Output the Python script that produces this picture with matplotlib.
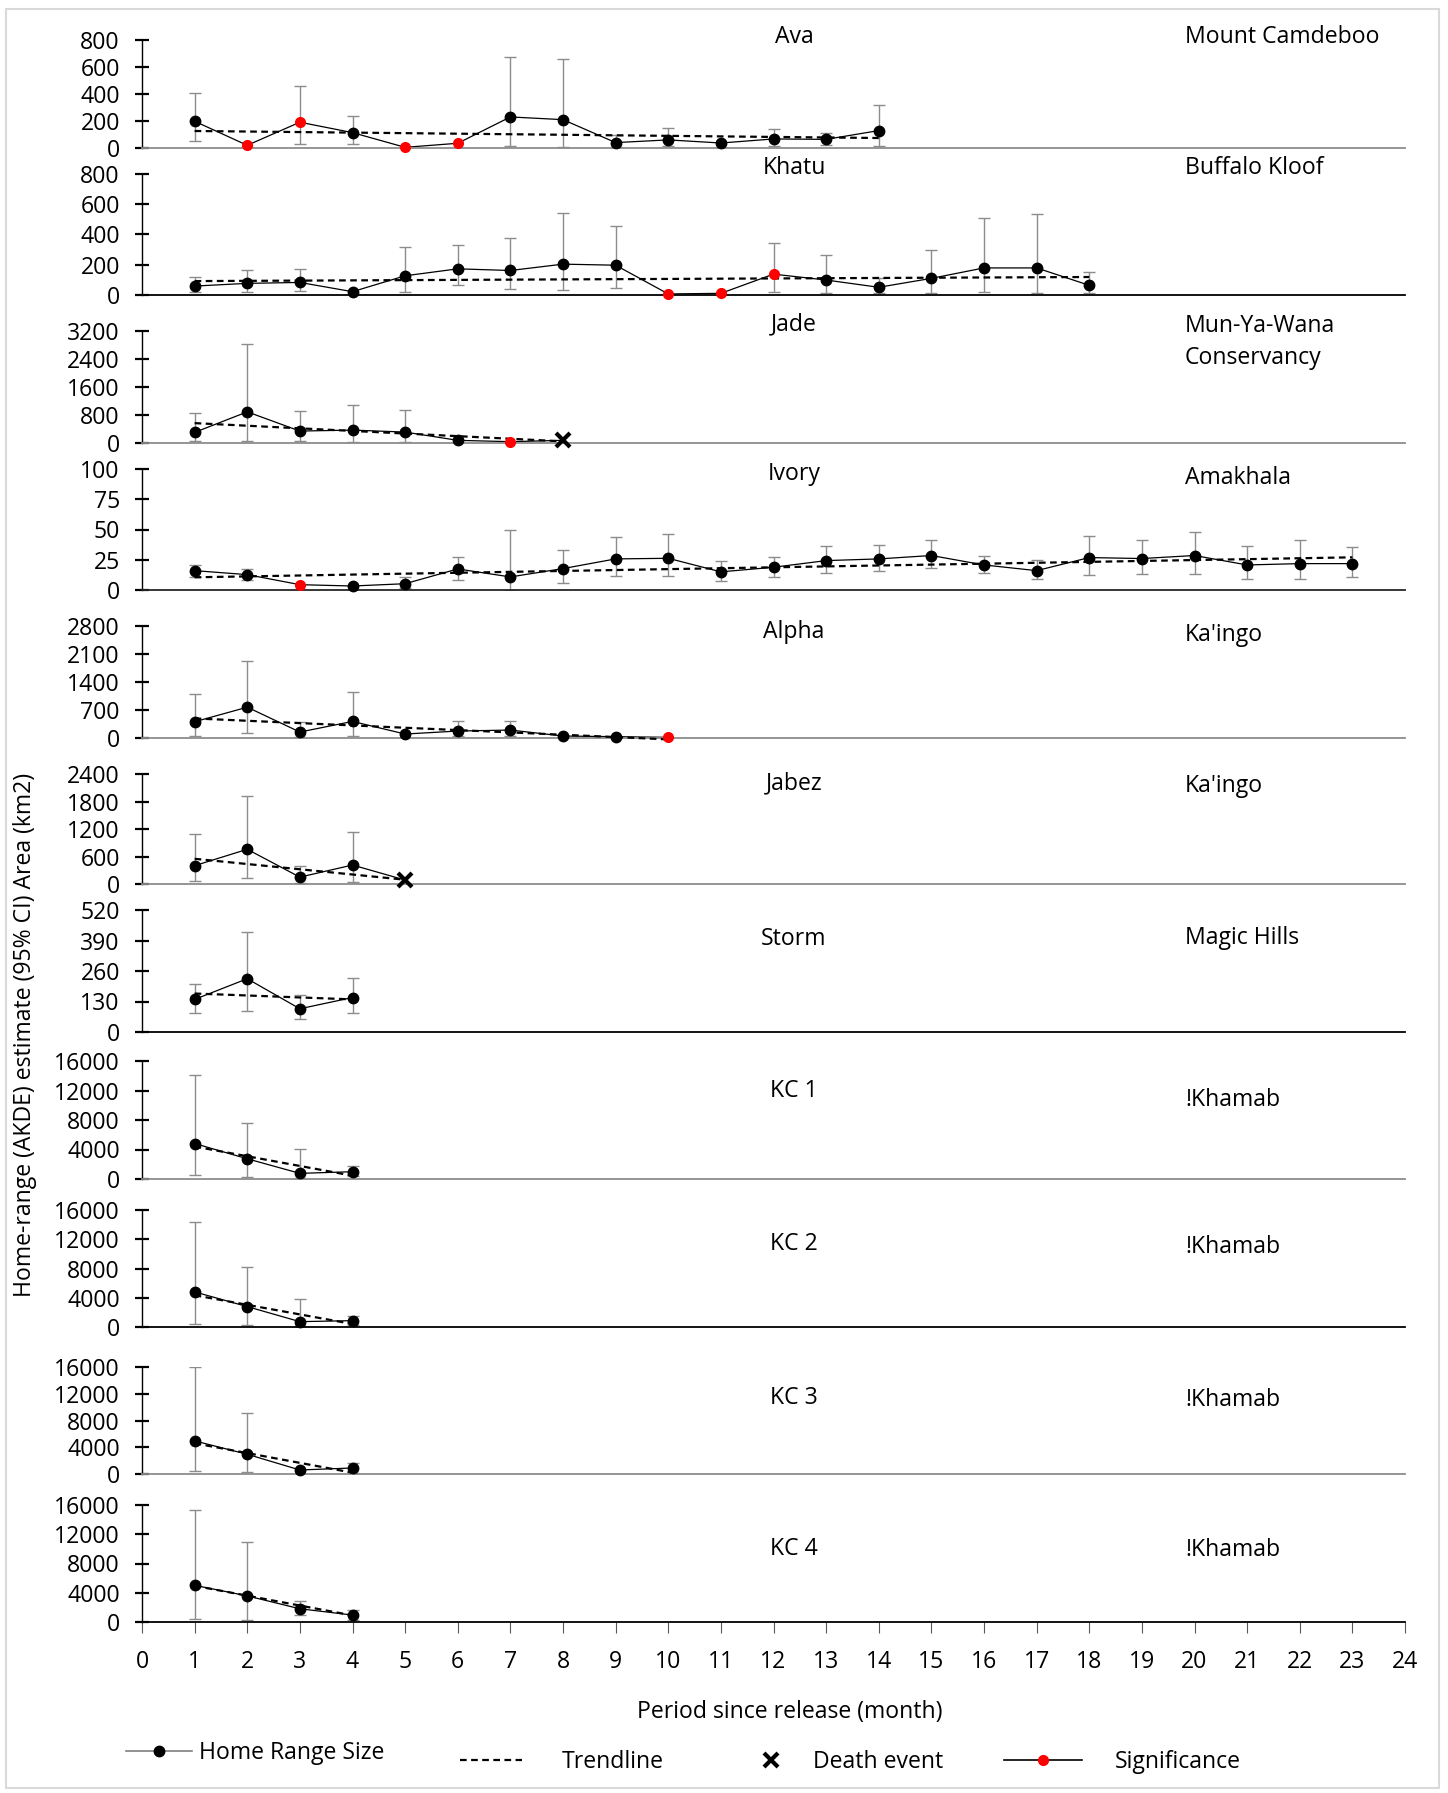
import matplotlib
matplotlib.use("Agg")
import matplotlib.pyplot as plt
from matplotlib.lines import Line2D
from matplotlib.patches import Rectangle
import numpy as np

plt.rcParams['font.family'] = ['Open Sans', 'DejaVu Sans']

# Home-range estimates per animal: value, lower / upper 95% CI (None = no CI drawn)
AVA_VAL = [198, 20, 191, 114, 5, 35, 230, 210, 40, 60, 37, 67, 64, 129]
AVA_LO = [54, None, 32, 30, None, None, 12, 5, 5, 12, None, 15, 20, 17]
AVA_HI = [411, None, 456, 240, None, None, 674, 661, 100, 149, None, 144, 114, 315]
AVA_SIG = [2, 3, 5, 6]
AVA_TREND = [126, 74]

KHATU_VAL = [59, 77, 83, 22, 127, 173, 162, 204, 197, 7, 11, 138, 99, 51, 110, 179, 179, 64]
KHATU_LO = [18, 22, 26, None, 22, 64, 37, 31, 46, None, None, 22, 11, 11, 11, 18, 13, 11]
KHATU_HI = [121, 167, 173, None, 320, 333, 379, 539, 456, None, None, 346, 267, 110, 298, 511, 533, 154]
KHATU_SIG = [10, 11, 12]
KHATU_TREND = [92, 119]

JADE_VAL = [303, 890, 341, 369, 312, 76, 38, 76]
JADE_LO = [47, 57, 47, 38, 38, None, None, None]
JADE_HI = [862, 2831, 928, 1098, 947, None, None, None]
JADE_SIG = [7]
JADE_DEATH = 8
JADE_TREND = [568, 47]

IVORY_VAL = [16, 12.7, 4.4, 3.3, 5.2, 17.4, 10.8, 17.7, 25.7, 26.2, 15, 18.8,
             24.3, 25.7, 28.5, 20.7, 16, 26.8, 26, 28.5, 20.7, 21.8, 21.8]
IVORY_LO = [11, 8, None, None, 1.4, 8.6, 0, 6, 11.9, 11.6, 7.5, 11,
            14, 15.5, 18.2, 13.8, 9.4, 12.4, 13.3, 13.5, 8.8, 8.8, 10.8]
IVORY_HI = [21, 17, None, None, 11, 27, 50, 33, 43.4, 46, 24, 27,
            36, 37.6, 41.7, 28.2, 24.6, 44.7, 41, 47.8, 36.2, 41, 35.6]
IVORY_SIG = [3]
IVORY_TREND = [10.5, 27]

ALPHA_VAL = [406, 770, 149, 414, 99, 174, 199, 50, 33, 17]
ALPHA_LO = [50, 133, 25, 50, None, 41, 58, None, None, None]
ALPHA_HI = [1093, 1922, 390, 1143, None, 414, 422, None, None, None]
ALPHA_SIG = [10]
ALPHA_TREND = [489, -35]

JABEZ_VAL = [400, 757, 150, 414, 86]
JABEZ_LO = [57, 129, 14, 43, None]
JABEZ_HI = [1093, 1914, 400, 1136, None]
JABEZ_DEATH = 5
JABEZ_TREND = [550, 93]

STORM_VAL = [139, 227, 99, 147]
STORM_LO = [81, 89, 54, 79]
STORM_HI = [204, 425, 156, 231]
STORM_TREND = [164, 139]

KC1_VAL = [4809, 2741, 764, 989]
KC1_LO = [494, 315, 90, 360]
KC1_HI = [14067, 7595, 4135, 1753]
KC1_TREND = [4404, 450]

KC2_VAL = [4800, 2789, 731, 869]
KC2_LO = [366, 229, 100, 274]
KC2_HI = [14309, 8137, 3886, 1554]
KC2_TREND = [4343, 411]

KC3_VAL = [4950, 2950, 600, 900]
KC3_LO = [404, 252, None, 100]
KC3_HI = [15950, 9136, None, 1665]
KC3_TREND = [4593, 200]

KC4_VAL = [5017, 3571, 1808, 949]
KC4_LO = [362, 271, 904, 271]
KC4_HI = [15367, 10938, 2893, 1672]
KC4_TREND = [4950, 900]

NAMES = ["Ava", "Khatu", "Jade", "Ivory", "Alpha", "Jabez", "Storm", "KC 1", "KC 2", "KC 3", "KC 4"]
SITES = ["Mount Camdeboo", "Buffalo Kloof", "Mun-Ya-Wana\nConservancy", "Amakhala", "Ka'ingo",
         "Ka'ingo", "Magic Hills", "!Khamab", "!Khamab", "!Khamab", "!Khamab"]
Y_MAX = [800, 800, 3200, 100, 2800, 2400, 520, 16000, 16000, 16000, 16000]
Y_STEP = [200, 200, 800, 25, 700, 600, 130, 4000, 4000, 4000, 4000]

panels = [
    dict(val=AVA_VAL, lo=AVA_LO, hi=AVA_HI, sig=AVA_SIG, trend=AVA_TREND),
    dict(val=KHATU_VAL, lo=KHATU_LO, hi=KHATU_HI, sig=KHATU_SIG, trend=KHATU_TREND),
    dict(val=JADE_VAL, lo=JADE_LO, hi=JADE_HI, sig=JADE_SIG, death=JADE_DEATH, trend=JADE_TREND),
    dict(val=IVORY_VAL, lo=IVORY_LO, hi=IVORY_HI, sig=IVORY_SIG, trend=IVORY_TREND),
    dict(val=ALPHA_VAL, lo=ALPHA_LO, hi=ALPHA_HI, sig=ALPHA_SIG, trend=ALPHA_TREND),
    dict(val=JABEZ_VAL, lo=JABEZ_LO, hi=JABEZ_HI, death=JABEZ_DEATH, trend=JABEZ_TREND),
    dict(val=STORM_VAL, lo=STORM_LO, hi=STORM_HI, trend=STORM_TREND),
    dict(val=KC1_VAL, lo=KC1_LO, hi=KC1_HI, trend=KC1_TREND),
    dict(val=KC2_VAL, lo=KC2_LO, hi=KC2_HI, trend=KC2_TREND),
    dict(val=KC3_VAL, lo=KC3_LO, hi=KC3_HI, trend=KC3_TREND),
    dict(val=KC4_VAL, lo=KC4_LO, hi=KC4_HI, trend=KC4_TREND),
]

# layout in pixels (top, bottom of each panel's plotting area)
W, H = 1448, 1793
PANEL_PX = [(40, 148), (174, 295), (331, 443), (469, 590), (626, 738), (774, 884),
            (910, 1032), (1061, 1179), (1210, 1327), (1367, 1474), (1505, 1622)]
NAME_Y = [37, 168, 324, 474, 632, 783, 939, 1091, 1244, 1398, 1549]
SITE_Y = [37, 168, 342, 478, 635, 786, 938, 1100, 1247, 1400, 1550]
BASE_COLOR = ['#8c8c8c', 'black', '#8c8c8c', '#262626', '#8c8c8c', '#8c8c8c',
              'black', '#8c8c8c', 'black', '#8c8c8c', 'black']
X_LEFT, X_RIGHT = 142, 1405
FS = 16.6
ERR_COLOR = '#8c8c8c'

fig = plt.figure(figsize=(W / 100, H / 100), dpi=100)

for i, p in enumerate(panels):
    top, bot = PANEL_PX[i]
    ax = fig.add_axes([X_LEFT / W, 1 - bot / H, (X_RIGHT - X_LEFT) / W, (bot - top) / H])
    vals = np.array(p['val'], dtype=float)
    months = np.arange(1, len(vals) + 1)

    # confidence intervals
    has_ci = [k for k in range(len(vals)) if p['lo'][k] is not None]
    ci_x = months[has_ci]
    ci_v = vals[has_ci]
    ci_lo = np.array([p['lo'][k] for k in has_ci], dtype=float)
    ci_hi = np.array([p['hi'][k] for k in has_ci], dtype=float)
    ax.errorbar(ci_x, ci_v, yerr=[ci_v - ci_lo, ci_hi - ci_v], fmt='none',
                ecolor=ERR_COLOR, elinewidth=1, capsize=4, capthick=1, zorder=1)

    ax.plot(months, vals, color='black', lw=0.9, zorder=2)

    t0, t1 = p['trend']
    ax.plot([months[0], months[-1]], [t0, t1], color='black', lw=1.6,
            ls=(0, (3, 2)), zorder=3, clip_on=False)

    sig = p.get('sig', [])
    death = p.get('death')
    normal = [m for m in months if m not in sig and m != death]
    ax.plot(normal, vals[np.array(normal) - 1], 'o', color='black', ms=7.5, zorder=4, clip_on=False)
    if sig:
        ax.plot(sig, vals[np.array(sig) - 1], 'o', color='#ff0000', ms=7, zorder=4, clip_on=False)
    if death:
        ax.plot([death], [vals[death - 1]], 'x', color='black', ms=9.5, mew=3, zorder=5, clip_on=False)

    ax.set_xlim(0, 24)
    ax.set_ylim(0, Y_MAX[i])
    ax.set_yticks(np.arange(0, Y_MAX[i] + 1, Y_STEP[i]))
    ax.tick_params(axis='y', direction='inout', length=10, width=1.6, labelsize=FS, pad=11)
    for s in ['top', 'right']:
        ax.spines[s].set_visible(False)
    ax.spines['left'].set_linewidth(1)
    ax.spines['bottom'].set_color(BASE_COLOR[i])
    ax.spines['bottom'].set_linewidth(1.3)
    ax.patch.set_alpha(0)

    if i == len(panels) - 1:
        ax.set_xticks(range(0, 25))
        ax.tick_params(axis='x', direction='out', length=8, width=0.8, color='#595959',
                       labelsize=FS, pad=12)
    else:
        ax.tick_params(axis='x', bottom=False, labelbottom=False)

    fig.text(794 / W, 1 - NAME_Y[i] / H, NAMES[i], ha='center', va='center', fontsize=FS)
    fig.text(1185 / W, 1 - SITE_Y[i] / H, SITES[i], ha='left', va='center', fontsize=FS,
             linespacing=1.4)

fig.text(25 / W, 1 - 1035 / H, "Home-range (AKDE) estimate (95% CI) Area (km2)",
         rotation=90, ha='center', va='center', fontsize=FS)
fig.text(790 / W, 1 - 1712 / H, "Period since release (month)", ha='center', va='center', fontsize=FS)

# legend entries laid out along the bottom
legend_items = [
    (Line2D([], [], color='#7f7f7f', lw=1.2, marker='o', mfc='black', mec='black', ms=7.5),
     "Home Range Size", 126, 1753, 2.85, 0.3),
    (Line2D([], [], color='black', lw=1.6, ls=(0, (3, 2))),
     "Trendline", 460, 1762, 2.7, 1.7),
    (Line2D([], [], color='black', ls='none', marker='x', ms=9.5, mew=3),
     "Death event", 759, 1762, 1.0, 1.35),
    (Line2D([], [], color='black', lw=1.2, marker='o', mfc='#ff0000', mec='#ff0000', ms=7),
     "Significance", 1004, 1762, 3.4, 1.4),
]
for handle, label, x, y, hl, hp in legend_items:
    fig.legend([handle], [label], loc='center left', bbox_to_anchor=(x / W, 1 - y / H),
               frameon=False, borderpad=0, borderaxespad=0, handlelength=hl,
               handletextpad=hp, fontsize=FS)

fig.add_artist(Rectangle((6 / W, 1 - 1788 / H), 1433 / W, 1779 / H, transform=fig.transFigure,
                         fill=False, ec='#d9d9d9', lw=1.5))

fig.savefig("out.png", dpi=100)
